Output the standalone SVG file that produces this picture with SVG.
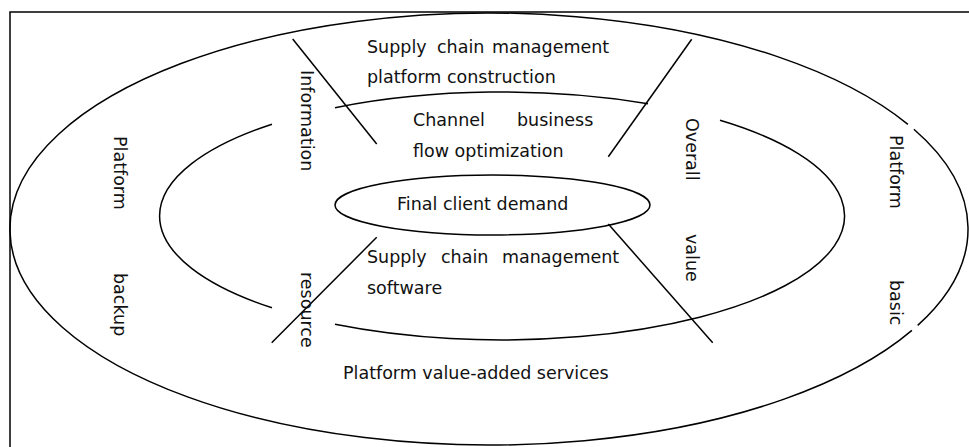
<svg xmlns="http://www.w3.org/2000/svg" width="969" height="447" viewBox="0 0 969 447">
<style>
.ln{fill:none;stroke:#000;stroke-width:1.5}
.t{font-family:"DejaVu Sans",Verdana,sans-serif;font-size:17.5px;fill:#111}
</style>
<rect x="0" y="0" width="969" height="447" fill="#fff"/>
<g id="frame"><path class="ln" d="M10,447 V12 H969"/></g>
<g id="outer-ring">
<path class="ln" d="M913.9,129.3 A479,216 0 0,1 917.7,325.4"/>
<path class="ln" d="M911.9,330.4 A479,216 0 1,1 907.9,124.3"/>
</g>
<g id="middle-ring">
<path class="ln" d="M335,107.7 A343,124 0 0,1 648,103.8"/>
<path class="ln" d="M720,120.3 A343,124 0 0,1 335,324.3"/>
<path class="ln" d="M272,307.8 A343,124 0 0,1 272,124.2"/>
</g>
<g id="core">
<ellipse class="ln" cx="492.5" cy="205" rx="157.5" ry="30"/>
<text class="t" x="397" y="210">Final client demand</text>
</g>
<g id="connectors">
<line class="ln" x1="292.7" y1="39" x2="376.7" y2="144"/>
<line class="ln" x1="691.7" y1="39.3" x2="608.3" y2="156.7"/>
<line class="ln" x1="376.7" y1="237.3" x2="271.7" y2="342.7"/>
<line class="ln" x1="608.3" y1="224" x2="712.7" y2="342.7"/>
</g>
<g id="top-block">
<text class="t" y="53"><tspan x="367">Supply</tspan><tspan x="437">chain</tspan><tspan x="492">management</tspan></text>
<text class="t" x="367" y="83">platform construction</text>
<text class="t" y="126"><tspan x="413">Channel</tspan><tspan x="517">business</tspan></text>
<text class="t" x="413" y="157">flow optimization</text>
</g>
<g id="bottom-block">
<text class="t" y="263"><tspan x="367">Supply</tspan><tspan x="441">chain</tspan><tspan x="502">management</tspan></text>
<text class="t" x="367" y="294">software</text>
<text class="t" x="343" y="379">Platform value-added services</text>
</g>
<g id="vertical-labels">
<text class="t" transform="translate(114,136) rotate(90)">Platform</text>
<text class="t" transform="translate(114,273) rotate(90)">backup</text>
<text class="t" transform="translate(301,70) rotate(90)">Information</text>
<text class="t" transform="translate(301,272) rotate(90)">resource</text>
<text class="t" transform="translate(686,118) rotate(90)">Overall</text>
<text class="t" transform="translate(686,234) rotate(90)">value</text>
<text class="t" transform="translate(890,135) rotate(90)">Platform</text>
<text class="t" transform="translate(890,280) rotate(90)">basic</text>
</g>
</svg>
